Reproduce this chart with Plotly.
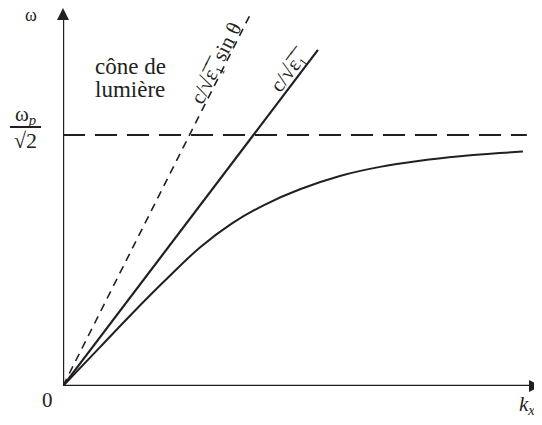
import plotly.graph_objects as go

# dispersion curve of the surface plasmon (omega in units of omega_p/sqrt(2), k in units of omega_sp*sqrt(eps1)/c)
k_curve = [0, 0.194, 0.361, 0.534, 0.717, 0.885, 1.058, 1.241, 1.450, 1.660, 1.869, 2.079, 2.288, 2.408]
w_curve = [0, 0.155, 0.288, 0.420, 0.552, 0.648, 0.723, 0.784, 0.837, 0.873, 0.897, 0.915, 0.928, 0.934]

# light lines: c/sqrt(eps1) and c/(sqrt(eps1) sin theta)
k_light = [0, 1.335]
w_light = [0, 1.339]
k_light_sin = [0, 0.979]
w_light_sin = [0, 1.478]

# asymptote omega_p/sqrt(2)
k_asym = [0, 2.429]
w_asym = [1, 1]

X_MAX, Y_MAX = 2.503, 1.506
INK = "#231f20"
FONT = "Liberation Serif"

fig = go.Figure()

# axes with arrowheads (arrow symbols have their tip on the point)
fig.add_trace(go.Scatter(x=[0, X_MAX - 0.03], y=[0, 0], mode="lines",
                         line=dict(color=INK, width=2.4), cliponaxis=False))
fig.add_trace(go.Scatter(x=[0, 0], y=[0, Y_MAX - 0.03], mode="lines",
                         line=dict(color=INK, width=2.4), cliponaxis=False))
fig.add_trace(go.Scatter(x=[X_MAX, 0], y=[0, Y_MAX], mode="markers", cliponaxis=False,
                         marker=dict(symbol=["arrow-right", "arrow-up"], size=12, color=INK,
                                     line=dict(width=0))))

fig.add_trace(go.Scatter(x=k_asym, y=w_asym, mode="lines",
                         line=dict(color=INK, width=2.2, dash="22px,10px")))
fig.add_trace(go.Scatter(x=k_light_sin, y=w_light_sin, mode="lines",
                         line=dict(color=INK, width=1.6, dash="8px,6px")))
fig.add_trace(go.Scatter(x=k_light, y=w_light, mode="lines",
                         line=dict(color=INK, width=2.2)))
fig.add_trace(go.Scatter(x=k_curve, y=w_curve, mode="lines",
                         line=dict(color=INK, width=2, shape="spline")))


# page pixel -> paper coords (plot area spans x 63..541, y 8..386 on the page)
def px(x):
    return (x - 63) / 478


def py(y):
    return (386 - y) / 378


def label(x, y, text, size, angle=0):
    return dict(x=px(x), y=py(y), xref="paper", yref="paper", text=text, showarrow=False,
                xanchor="center", yanchor="middle", textangle=angle,
                font=dict(family=FONT, size=size, color=INK))


sqrt_eps = "√ε\u0305\u2081\u0305"
annotations = [
    label(31, 15, "ω", 18),
    label(47, 400, "0", 21),
    label(527, 405, "<i>k<sub>x</sub></i>", 21),
    label(25, 115, "ω<sub><i>p</i></sub>", 21),
    label(25, 140, "√2", 22),
    label(130, 67, "cône de", 23),
    label(130, 89, "lumière", 23),
    label(216, 63, "c/" + sqrt_eps + " sin θ", 21, -63),
    label(289, 70, "c/" + sqrt_eps, 21, -53),
]

shapes = [
    # fraction bar of omega_p / sqrt(2)
    dict(type="line", xref="paper", yref="paper", x0=px(10), x1=px(41), y0=py(127), y1=py(127),
         line=dict(color=INK, width=2)),
]

fig.update_layout(
    width=534, height=417,
    margin=dict(l=55, r=1, t=0, b=39),
    paper_bgcolor="white", plot_bgcolor="white",
    showlegend=False,
    font=dict(family=FONT, color=INK),
    annotations=annotations,
    shapes=shapes,
    xaxis=dict(range=[0, X_MAX], visible=False, fixedrange=True),
    yaxis=dict(range=[0, Y_MAX], visible=False, fixedrange=True),
)

fig.write_html("out.html")
